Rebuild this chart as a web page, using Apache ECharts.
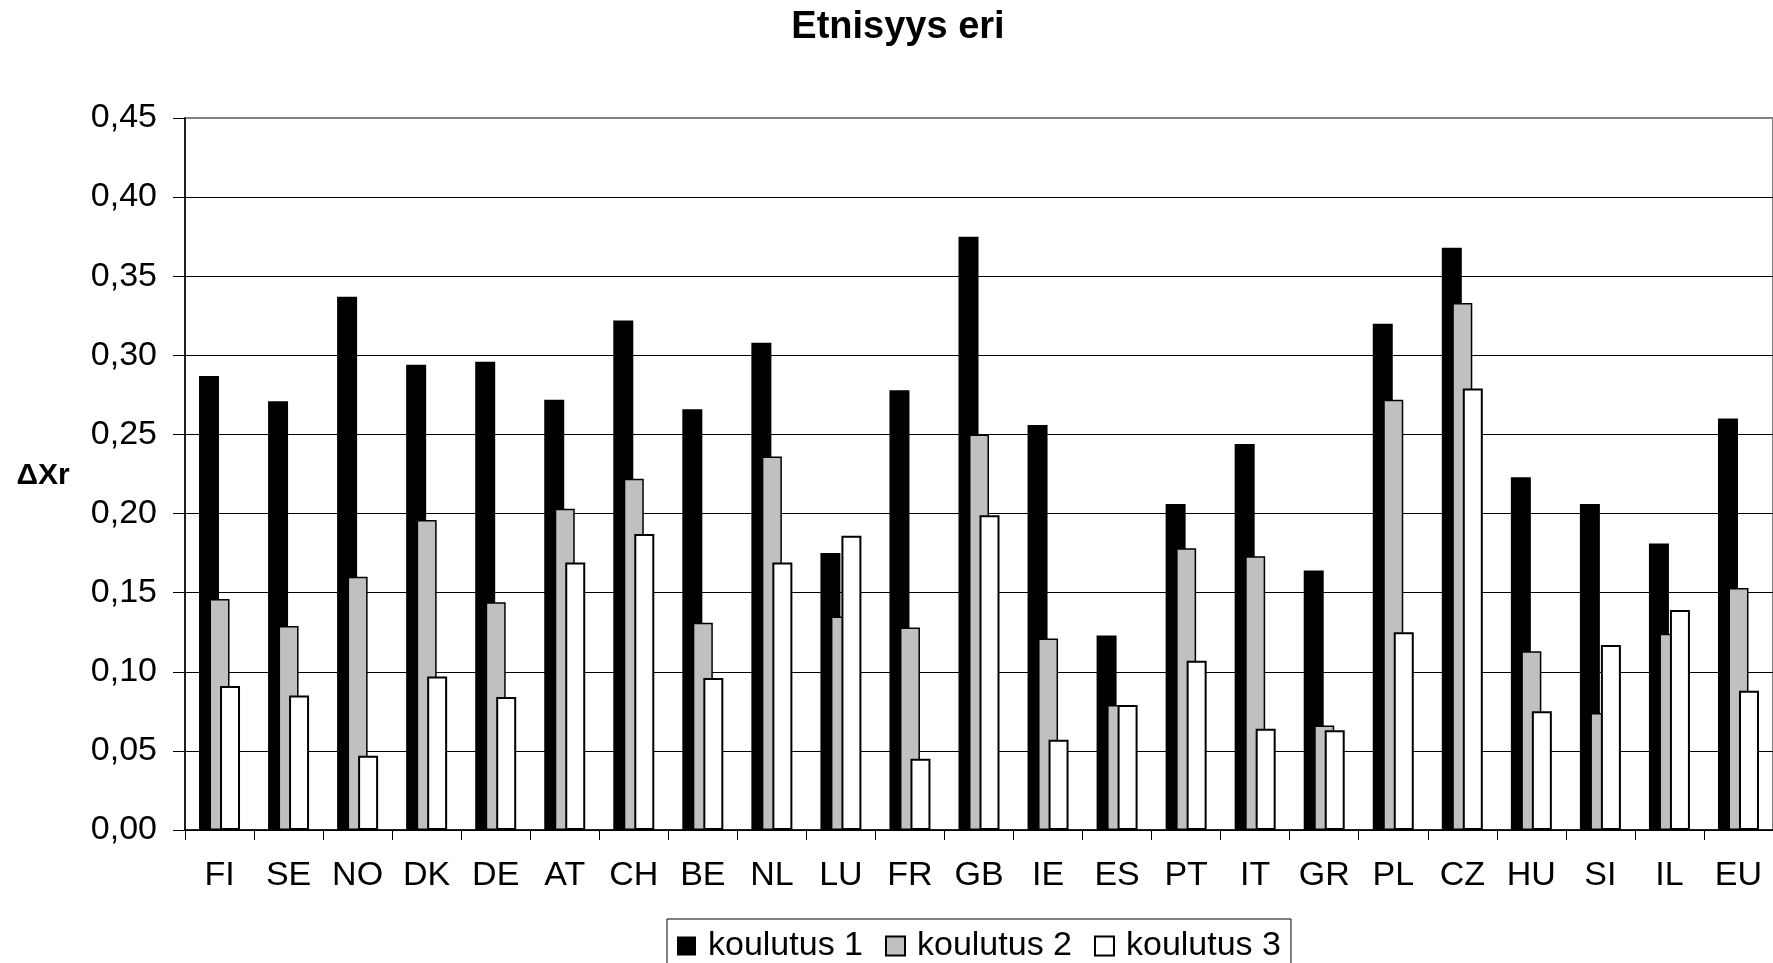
<!DOCTYPE html>
<html>
<head>
<meta charset="utf-8">
<script src="https://cdn.jsdelivr.net/npm/echarts@6/dist/echarts.min.js"></script>
<style>
html,body{margin:0;padding:0;background:#fff;}
#chart{width:1773px;height:963px;}
</style>
</head>
<body>
<div id="chart"></div>
<script>
const categories = ['FI','SE','NO','DK','DE','AT','CH','BE','NL','LU','FR','GB','IE','ES','PT','IT','GR','PL','CZ','HU','SI','IL','EU'];
const koulutus1 = [0.287,0.271,0.337,0.294,0.296,0.272,0.322,0.266,0.308,0.175,0.278,0.375,0.256,0.123,0.206,0.244,0.164,0.320,0.368,0.223,0.206,0.181,0.260];
const koulutus2 = [0.146,0.129,0.160,0.196,0.144,0.203,0.222,0.131,0.236,0.135,0.128,0.250,0.121,0.079,0.178,0.173,0.066,0.272,0.333,0.113,0.074,0.124,0.153];
const koulutus3 = [0.091,0.085,0.047,0.097,0.084,0.169,0.187,0.096,0.169,0.186,0.045,0.199,0.057,0.079,0.107,0.064,0.063,0.125,0.279,0.075,0.117,0.139,0.088];
const seriesNames = ['koulutus 1','koulutus 2','koulutus 3'];
const titleText = 'Etnisyys eri';
const yAxisTitle = 'ΔXr';

const FONT = '"Liberation Sans", Arial, sans-serif';
const chart = echarts.init(document.getElementById('chart'), null, {renderer:'canvas'});

const gridColors = ['#000','#000','#000','#000','#000','#000','#000','#000','#000','#808080'];

chart.setOption({
  animation: false,
  backgroundColor: '#fff',
  title: {
    text: titleText,
    left: 893,
    textAlign: 'center',
    top: 4,
    textStyle: {fontFamily: FONT, fontSize: 38, fontWeight: 'bold', color: '#000'}
  },
  graphic: [{
    type: 'text',
    x: 43, y: 476,
    style: {text: yAxisTitle, fontFamily: FONT, fontSize: 30, fontWeight: 'bold', fill: '#000', align: 'center', verticalAlign: 'middle'}
  }],
  legend: {
    data: seriesNames,
    left: 667,
    top: 919,
    orient: 'horizontal',
    icon: 'rect',
    itemWidth: 19,
    itemHeight: 19,
    itemGap: 22,
    padding: [10, 10, 10, 10],
    borderColor: '#000',
    borderWidth: 1,
    textStyle: {fontFamily: FONT, fontSize: 34, color: '#000', padding: [0,0,0,7]}
  },
  grid: {
    left: 185,
    top: 118,
    width: 1593,
    height: 712,
    show: true,
    borderColor: '#808080',
    borderWidth: 2,
    backgroundColor: 'transparent'
  },
  xAxis: {
    type: 'category',
    data: categories,
    axisLine: {show: true, lineStyle: {color: '#000', width: 1.5}},
    axisTick: {show: true, length: 10, inside: false, alignWithLabel: false, lineStyle: {color: '#000', width: 1}},
    axisLabel: {fontFamily: FONT, fontSize: 34, color: '#000', margin: 29, interval: 0},
    splitLine: {show: false}
  },
  yAxis: {
    type: 'value',
    min: 0,
    max: 0.45,
    interval: 0.05,
    axisLine: {show: true, lineStyle: {color: '#000', width: 1.5}},
    axisTick: {show: true, length: 12, lineStyle: {color: '#000', width: 1}},
    axisLabel: {fontFamily: FONT, fontSize: 34, color: '#000', margin: 28,
      formatter: v => v.toFixed(2).replace('.', ',')},
    splitLine: {show: true, lineStyle: {color: gridColors, width: 1}}
  },
  series: [
    {name: seriesNames[0], type: 'bar', data: koulutus1, barWidth: 20, barGap: '-47.5%',
     itemStyle: {color: '#000', borderColor: '#000', borderWidth: 0}},
    {name: seriesNames[1], type: 'bar', data: koulutus2, barWidth: 20, barGap: '-47.5%',
     itemStyle: {color: '#c0c0c0', borderColor: '#000', borderWidth: 1.5}},
    {name: seriesNames[2], type: 'bar', data: koulutus3, barWidth: 20, barGap: '-47.5%',
     itemStyle: {color: '#fff', borderColor: '#000', borderWidth: 2}}
  ]
});
</script>
</body>
</html>
